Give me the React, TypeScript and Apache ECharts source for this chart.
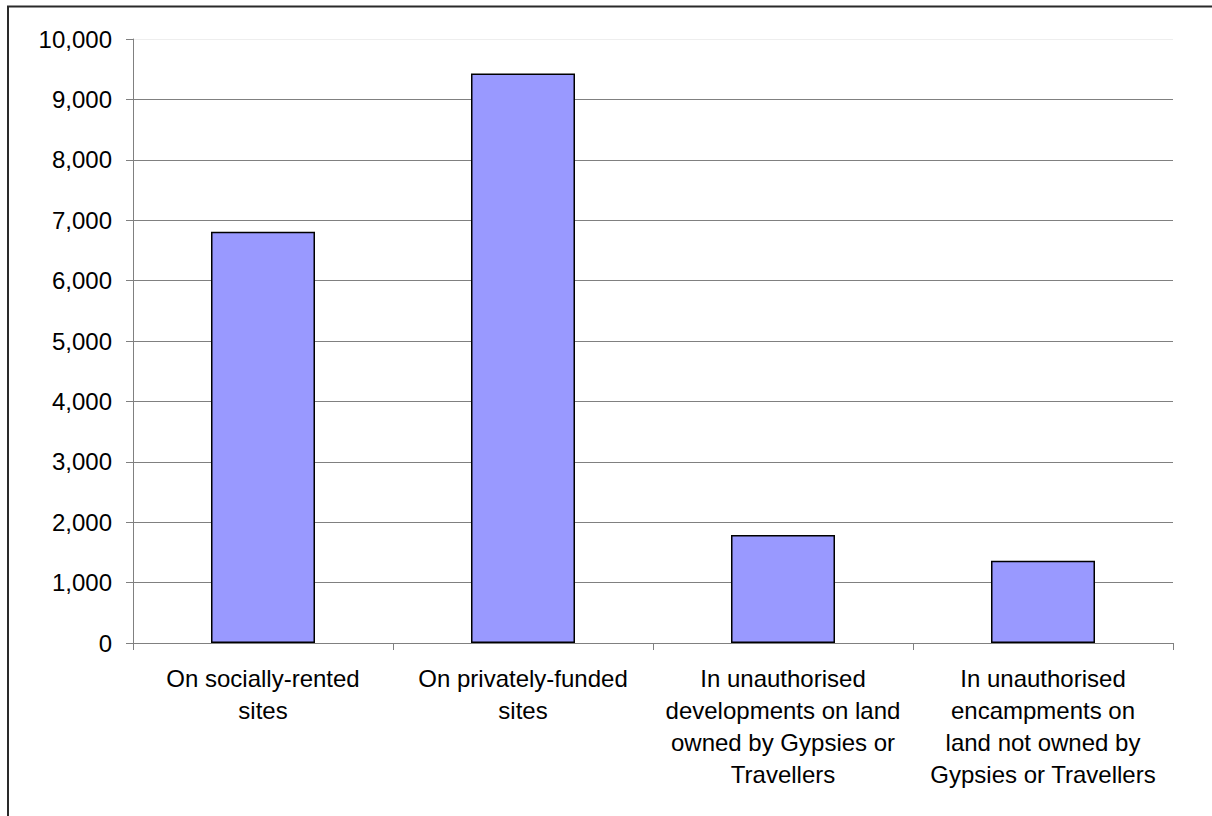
import React, { useEffect, useRef } from "react";
import * as echarts from "echarts";

const categories = [
  "On socially-rented\nsites",
  "On privately-funded\nsites",
  "In unauthorised\ndevelopments on land\nowned by Gypsies or\nTravellers",
  "In unauthorised\nencampments on\nland not owned by\nGypsies or Travellers",
];
const values = [6810, 9430, 1790, 1360];
const yMin = 0;
const yMax = 10000;
const yInterval = 1000;

const FONT = "'Liberation Sans', Arial, sans-serif";

export default function App() {
  const ref = useRef<HTMLDivElement>(null);
  useEffect(() => {
    if (!ref.current) return;
    const chart = echarts.init(ref.current, null, { renderer: "svg" });
    const gridColors = [
      "#808080", "#808080", "#808080", "#808080", "#808080", "#808080",
      "#808080", "#808080", "#808080", "#808080", "#eeeeee",
    ];
    chart.setOption({
      animation: false,
      backgroundColor: "#ffffff",
      textStyle: { fontFamily: FONT },
      graphic: [
        {
          type: "rect",
          shape: { x: 8, y: 6.5, width: 1260, height: 900 },
          style: { fill: "none", stroke: "#2a2a2a", lineWidth: 2 },
          silent: true,
        },
      ],
      grid: { left: 133, right: 39, top: 39, bottom: 173, containLabel: false },
      xAxis: {
        type: "category",
        data: categories,
        axisLine: { show: true, lineStyle: { color: "#808080", width: 1 } },
        axisTick: { show: true, alignWithLabel: false, length: 7, lineStyle: { color: "#808080" } },
        axisLabel: {
          interval: 0,
          margin: 19,
          color: "#000",
          fontSize: 24,
          lineHeight: 32,
          fontFamily: FONT,
          align: "center",
        },
        splitLine: { show: false },
      },
      yAxis: {
        type: "value",
        min: yMin,
        max: yMax,
        interval: yInterval,
        axisLine: { show: true, lineStyle: { color: "#808080", width: 1 } },
        axisTick: { show: true, length: 7, inside: false, lineStyle: { color: "#808080" } },
        axisLabel: {
          margin: 21,
          color: "#000",
          fontSize: 24,
          fontFamily: FONT,
          formatter: (v: number) => v.toLocaleString("en-US"),
        },
        splitLine: { show: true, lineStyle: { color: gridColors, width: 1 } },
      },
      series: [
        {
          type: "bar",
          data: values,
          barWidth: "40%",
          itemStyle: { color: "#9999ff", borderColor: "#000000", borderWidth: 1.5 },
          emphasis: { disabled: true },
        },
      ],
    });
    return () => chart.dispose();
  }, []);
  return (
    <div
      ref={ref}
      style={{ position: "fixed", left: 0, top: 0, width: 1212, height: 816 }}
    />
  );
}
